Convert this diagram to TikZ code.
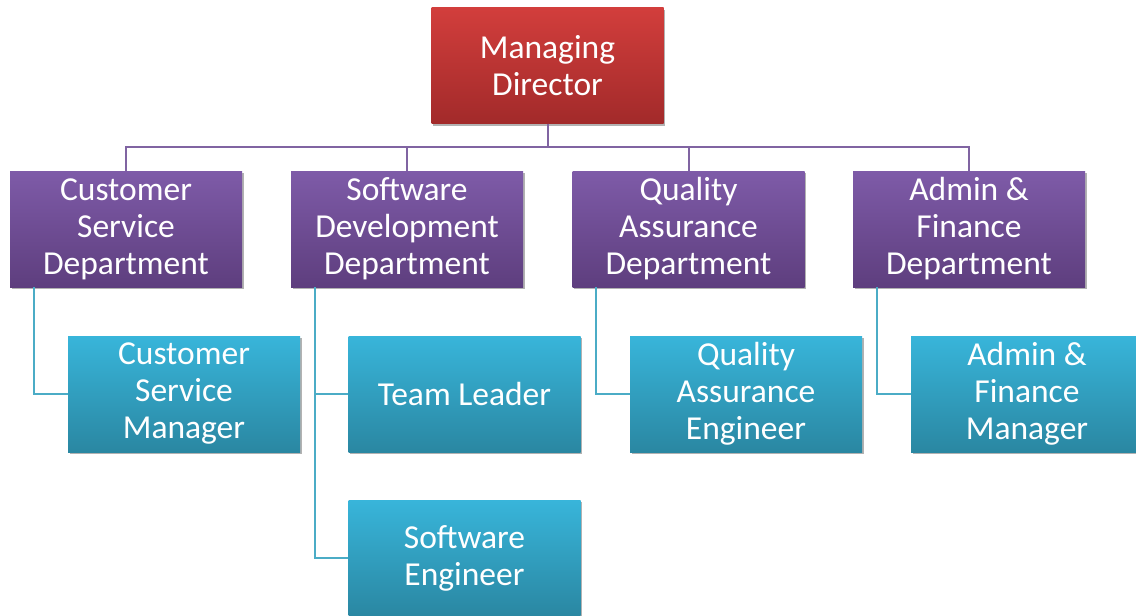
\documentclass[tikz,border=0pt]{standalone}
\usepackage{fontspec}
\setmainfont{Carlito}
\usetikzlibrary{shadows}
\definecolor{mdtop}{HTML}{D23E3C}
\definecolor{mdbot}{HTML}{A22A2A}
\definecolor{dptop}{HTML}{7E5BA8}
\definecolor{dpbot}{HTML}{5E3E7E}
\definecolor{chtop}{HTML}{38B5DA}
\definecolor{chbot}{HTML}{2A87A2}
\definecolor{pline}{HTML}{8064A2}
\definecolor{tline}{HTML}{4BACC6}
\begin{document}
\begin{tikzpicture}[x=1pt,y=-1pt,
  box/.style={rectangle, minimum width=232pt, minimum height=116pt, inner sep=0pt,
    align=center, text=white, font=\fontsize{33.5}{37}\selectfont,
    drop shadow={shadow xshift=1.5pt, shadow yshift=-2pt, opacity=0.3, fill=black}},
  redbox/.style={box, top color=mdtop, bottom color=mdbot},
  deptbox/.style={box, top color=dptop, bottom color=dpbot},
  childbox/.style={box, top color=chtop, bottom color=chbot},
  purplelink/.style={draw=pline, line width=2pt},
  teallink/.style={draw=tline, line width=2pt}
]
\useasboundingbox (0,0) rectangle (1136,616);
\fill[white] (0,0) rectangle (1136,616);

\node[redbox] (md) at (547.5,65.5) {Managing\\Director};

\node[deptbox] (cs) at (126,229) {Customer\\Service\\Department};
\node[deptbox] (sd) at (407,229) {Software\\Development\\Department};
\node[deptbox] (qa) at (688.5,229) {Quality\\Assurance\\Department};
\node[deptbox] (af) at (969,229) {Admin \&\\Finance\\Department};

\node[childbox] (csm) at (184,394) {Customer\\Service\\Manager};
\node[childbox] (tl) at (464.5,394) {Team Leader};
\node[childbox] (se) at (464.5,558) {Software\\Engineer};
\node[childbox] (qae) at (746,394) {Quality\\Assurance\\Engineer};
\node[childbox] (afm) at (1027,394) {Admin \&\\Finance\\Manager};

\foreach \d in {cs,sd,qa,af}
  \draw[purplelink] (md.south) -- ++(0,23) -| (\d.north);

\draw[teallink] ([xshift=-92.5pt]cs.south) |- (csm.west);
\draw[teallink] ([xshift=-92.5pt]sd.south) |- (tl.west);
\draw[teallink] ([xshift=-92.5pt]sd.south) |- (se.west);
\draw[teallink] ([xshift=-92.5pt]qa.south) |- (qae.west);
\draw[teallink] ([xshift=-92.5pt]af.south) |- (afm.west);
\end{tikzpicture}
\end{document}
